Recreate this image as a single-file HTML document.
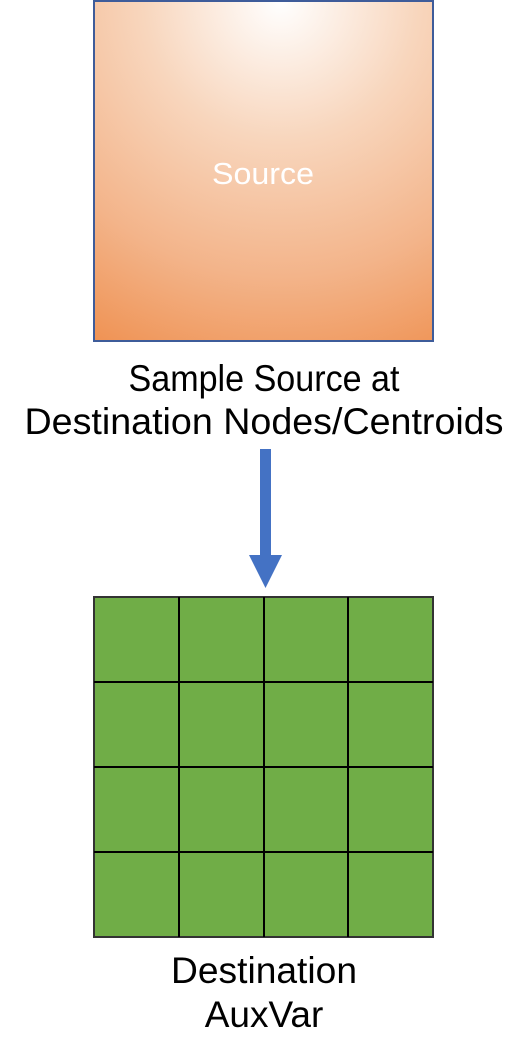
<!DOCTYPE html>
<html><head><meta charset="utf-8"><style>
html,body{margin:0;padding:0;background:#fff;width:529px;height:1060px;overflow:hidden}
</style></head><body>
<svg width="529" height="1060" viewBox="0 0 529 1060" xmlns="http://www.w3.org/2000/svg">
<defs>
<radialGradient id="g" cx="0.55" cy="0" r="1.35" fx="0.55" fy="0" gradientUnits="objectBoundingBox">
<stop offset="0" stop-color="#ffffff"/>
<stop offset="0.3" stop-color="#f8d6bd"/>
<stop offset="0.6" stop-color="#f3b48a"/>
<stop offset="1" stop-color="#ed7d31"/>
</radialGradient>
</defs>
<rect x="94" y="1" width="339" height="340" fill="url(#g)" stroke="#3e5c9a" stroke-width="2"/>
<text x="263" y="184" font-family="Liberation Sans, sans-serif" font-size="31" fill="#fff" text-anchor="middle" textLength="102" lengthAdjust="spacingAndGlyphs">Source</text>
<g font-family="Liberation Sans, sans-serif" font-size="37" fill="#000" text-anchor="middle">
<text x="264" y="391" textLength="271" lengthAdjust="spacingAndGlyphs">Sample Source at</text>
<text x="264" y="434" textLength="479" lengthAdjust="spacingAndGlyphs">Destination Nodes/Centroids</text>
<text x="264" y="983" textLength="186" lengthAdjust="spacingAndGlyphs">Destination</text>
<text x="264" y="1027">AuxVar</text>
</g>
<rect x="260" y="449" width="11" height="108" fill="#4472c4"/>
<polygon points="249,555 282,555 265.5,588" fill="#4472c4"/>
<rect x="94" y="597" width="339" height="340" fill="#70ad47" stroke="#333" stroke-width="2"/>
<g stroke="#000" stroke-width="2">
<line x1="179" y1="597" x2="179" y2="937"/>
<line x1="264" y1="597" x2="264" y2="937"/>
<line x1="348" y1="597" x2="348" y2="937"/>
<line x1="94" y1="682" x2="433" y2="682"/>
<line x1="94" y1="767" x2="433" y2="767"/>
<line x1="94" y1="852" x2="433" y2="852"/>
</g>
</svg>
</body></html>
